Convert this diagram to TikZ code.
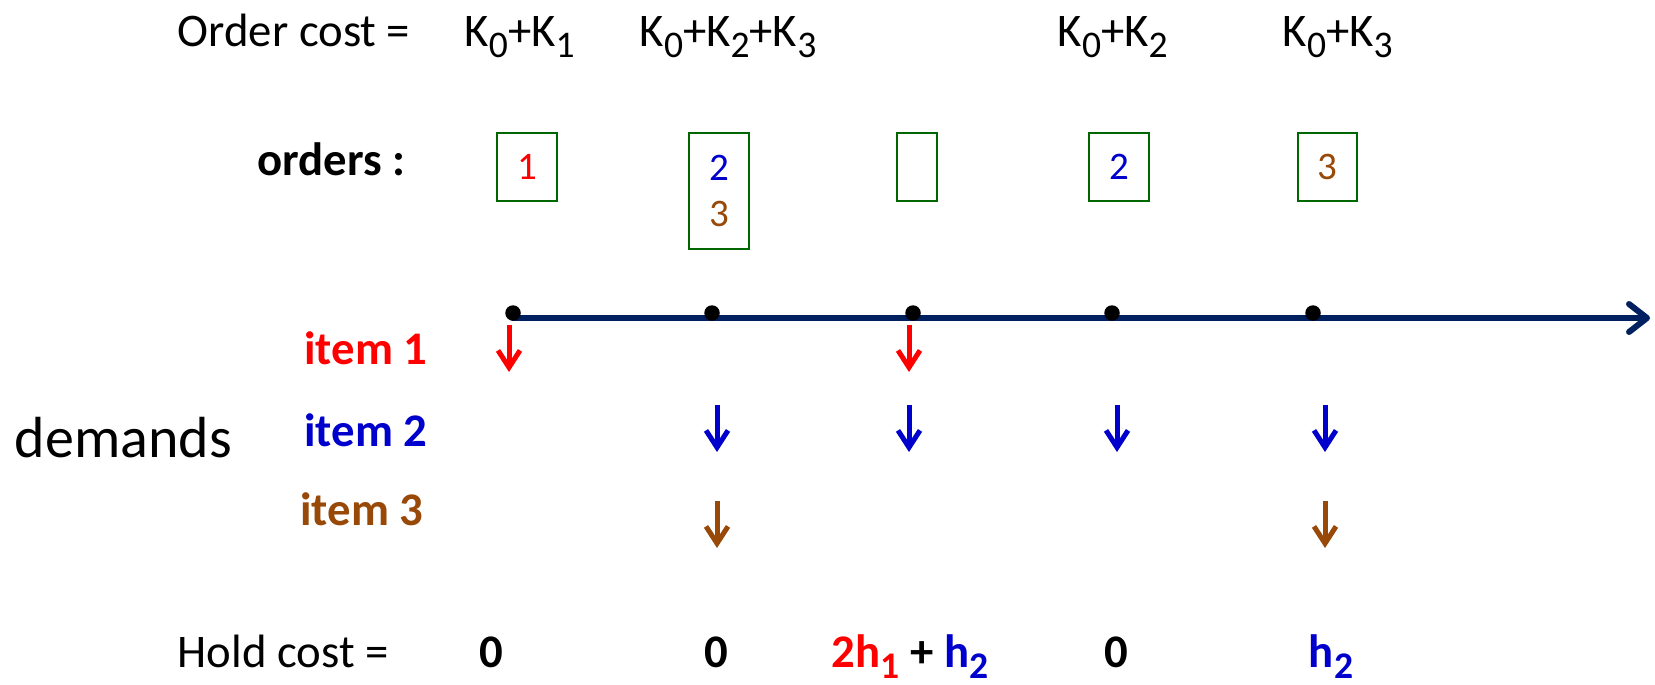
\documentclass[tikz,border=0pt]{standalone}
\usepackage{fontspec}
\setmainfont{Carlito}
\usepackage{xcolor}
\usepackage{tikz}
\usetikzlibrary{arrows.meta, backgrounds}
\definecolor{itemred}{HTML}{FF0000}
\definecolor{itemblue}{HTML}{0000CC}
\definecolor{itembrown}{HTML}{984807}
\definecolor{boxgreen}{HTML}{006600}
\definecolor{axisnavy}{HTML}{002060}
\newcommand{\sbs}[1]{\raisebox{-0.24em}{\fontsize{10.7}{12}\selectfont #1}}
\tikzset{
  lbltext/.style={inner sep=0pt,font=\fontsize{13.3}{16}\selectfont},
  boldtext/.style={lbltext,font=\fontsize{13.3}{16}\selectfont\bfseries},
  bigtext/.style={inner sep=0pt,font=\fontsize{16.5}{20}\selectfont},
  ordbox/.style={draw=boxgreen,line width=0.6pt,inner sep=0pt,minimum width=0.60cm,minimum height=0.68cm,align=center,font=\fontsize{11.1}{13}\selectfont},
  tickdot/.style={circle,fill=black,inner sep=0pt,minimum size=0.155cm},
  timeaxis/.style={-{Straight Barb[length=0.18cm,width=0.28cm,round]},line width=0.06cm,axisnavy,line cap=round},
  demarrow/.style={-{Straight Barb[length=0.17cm,width=0.22cm]},line width=0.05cm},
}

\begin{document}
\begin{tikzpicture}
  \useasboundingbox (0,0) rectangle (16.55,-6.84);
  \node[lbltext,anchor=base west] (nOrd) at (1.77,-0.46) {Order cost =};
  \node[lbltext,anchor=base west] (nK1) at (4.64,-0.46) {K\sbs{0}+K\sbs{1}};
  \node[lbltext,anchor=base west] (nK23) at (6.39,-0.46) {K\sbs{0}+K\sbs{2}+K\sbs{3}};
  \node[lbltext,anchor=base west] (nK2) at (10.57,-0.46) {K\sbs{0}+K\sbs{2}};
  \node[lbltext,anchor=base west] (nK3) at (12.82,-0.46) {K\sbs{0}+K\sbs{3}};
  \node[boldtext,anchor=base west] (nOrders) at (2.57,-1.75) {orders :};
  \node[ordbox] (b1) at (5.27,-1.67) {\textcolor{itemred}{1}};
  \node[ordbox,minimum height=1.16cm] (b2) at (7.19,-1.91) {\textcolor{itemblue}{2}\\\textcolor{itembrown}{3}};
  \node[ordbox,minimum width=0.40cm] (b3) at (9.17,-1.67) {};
  \node[ordbox] (b4) at (11.19,-1.67) {\textcolor{itemblue}{2}};
  \node[ordbox,minimum width=0.59cm] (b5) at (13.275,-1.67) {\textcolor{itembrown}{3}};
  \node[tickdot] (t1) at (5.13,-3.13) {};
  \node[tickdot] (t2) at (7.12,-3.13) {};
  \node[tickdot] (t3) at (9.13,-3.13) {};
  \node[tickdot] (t4) at (11.12,-3.13) {};
  \node[tickdot] (t5) at (13.13,-3.13) {};
  \coordinate (axS) at (5.13,-3.18);
  \coordinate (axE) at (16.50,-3.18);
  \begin{scope}[on background layer]
    \draw[timeaxis] (axS) -- (axE);
  \end{scope}
  \node[boldtext,anchor=base east,text=itemred] (nI1) at (4.28,-3.64) {item 1};
  \node[boldtext,anchor=base east,text=itemblue] (nI2) at (4.28,-4.46) {item 2};
  \node[boldtext,anchor=base east,text=itembrown] (nI3) at (4.24,-5.25) {item 3};
  \node[bigtext,anchor=base west] (nDem) at (0.14,-4.57) {demands};
  \coordinate (r1a) at (5.09,-3.25);
  \coordinate (r1b) at (5.09,-3.72);
  \coordinate (r3a) at (9.09,-3.25);
  \coordinate (r3b) at (9.09,-3.72);
  \coordinate (u2a) at (7.17,-4.05);
  \coordinate (u2b) at (7.17,-4.52);
  \coordinate (u3a) at (9.09,-4.05);
  \coordinate (u3b) at (9.09,-4.52);
  \coordinate (u4a) at (11.17,-4.05);
  \coordinate (u4b) at (11.17,-4.52);
  \coordinate (u5a) at (13.25,-4.05);
  \coordinate (u5b) at (13.25,-4.52);
  \coordinate (w2a) at (7.17,-5.01);
  \coordinate (w2b) at (7.17,-5.48);
  \coordinate (w5a) at (13.25,-5.01);
  \coordinate (w5b) at (13.25,-5.48);
  \draw[demarrow,itemred] (r1a) -- (r1b);
  \draw[demarrow,itemred] (r3a) -- (r3b);
  \draw[demarrow,itemblue] (u2a) -- (u2b);
  \draw[demarrow,itemblue] (u3a) -- (u3b);
  \draw[demarrow,itemblue] (u4a) -- (u4b);
  \draw[demarrow,itemblue] (u5a) -- (u5b);
  \draw[demarrow,itembrown] (w2a) -- (w2b);
  \draw[demarrow,itembrown] (w5a) -- (w5b);
  \node[lbltext,anchor=base west] (nHold) at (1.77,-6.67) {Hold cost =};
  \node[boldtext,anchor=base] (h1) at (4.91,-6.67) {0};
  \node[boldtext,anchor=base] (h2) at (7.16,-6.67) {0};
  \node[boldtext,anchor=base] (h3) at (9.10,-6.67) {\textcolor{itemred}{2h\sbs{1}} + \textcolor{itemblue}{h\sbs{2}}};
  \node[boldtext,anchor=base] (h4) at (11.16,-6.67) {0};
  \node[boldtext,anchor=base,text=itemblue] (h5) at (13.31,-6.67) {h\sbs{2}};
\end{tikzpicture}
\end{document}
